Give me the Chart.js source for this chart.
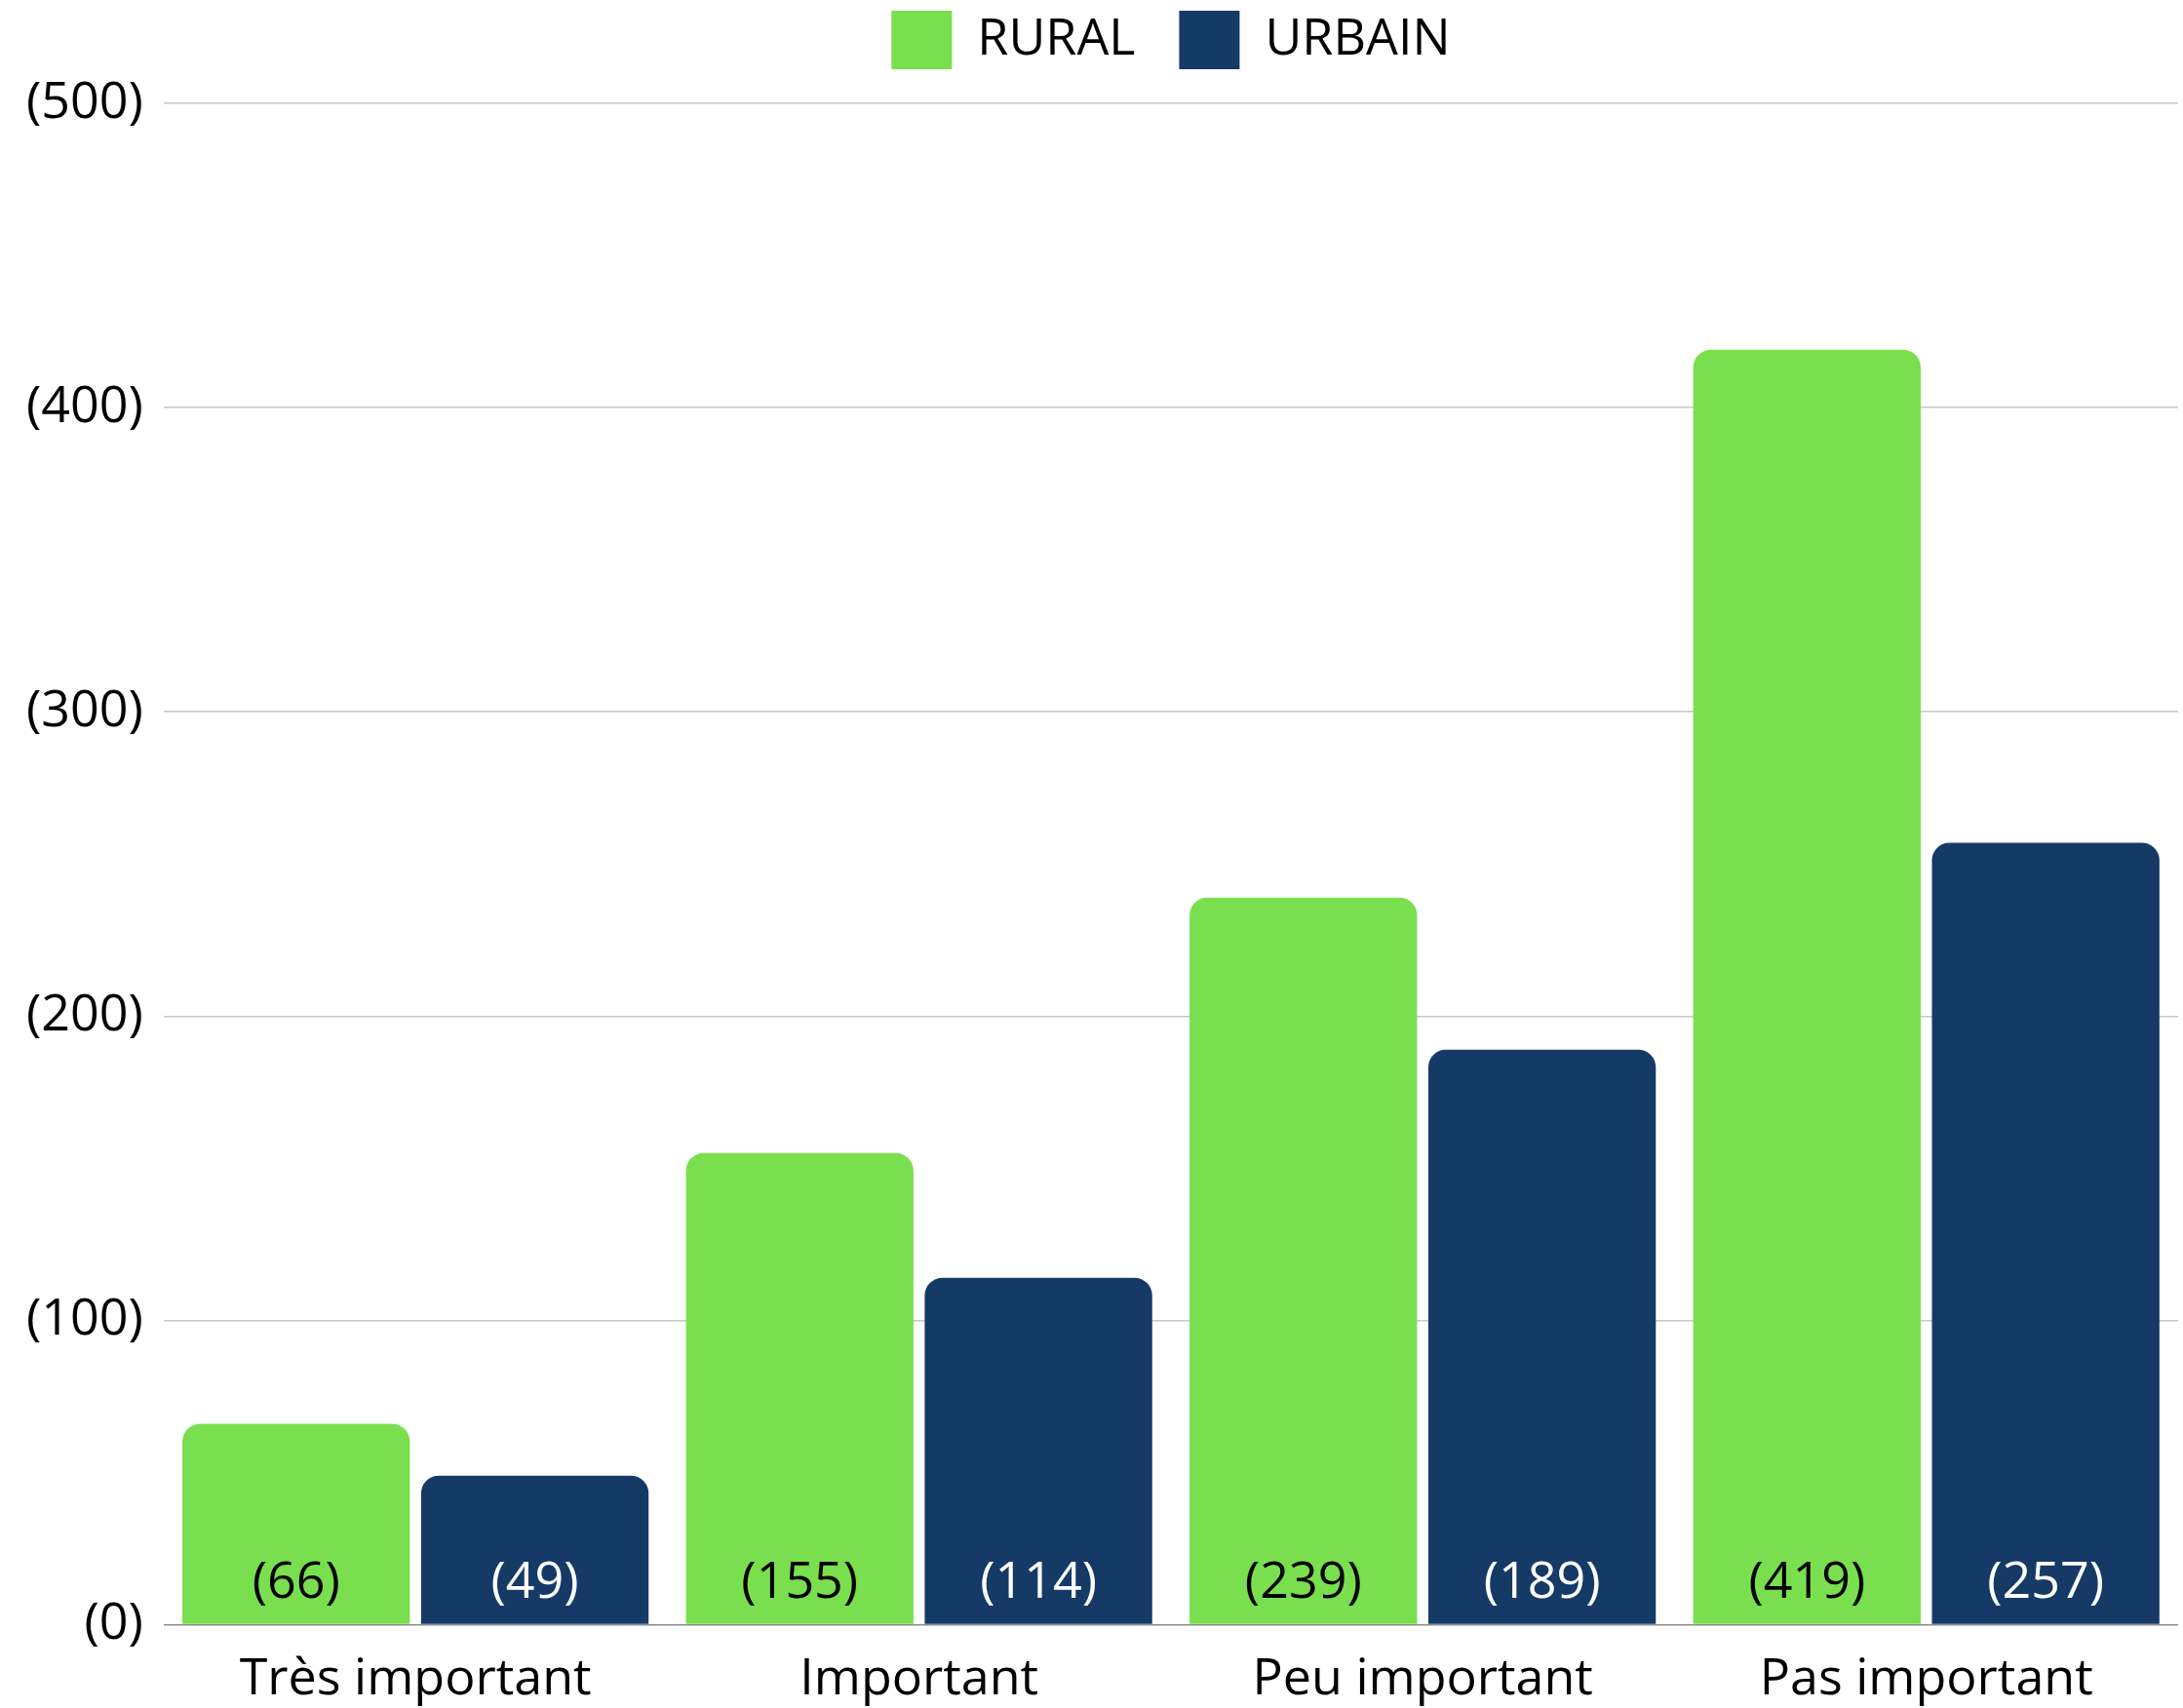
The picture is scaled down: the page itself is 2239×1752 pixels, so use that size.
<!DOCTYPE html>
<html>
<head>
<meta charset="utf-8">
<script src="https://cdn.jsdelivr.net/npm/chart.js@4"></script>
<style>
    html, body { margin: 0; padding: 0; background: #fff; }
    #wrap { width: 2239px; height: 1752px; }
</style>
</head>
<body>
<div id="wrap"><canvas id="chart"></canvas></div>
<script>
// Chart data
const categories = ['Très important', 'Important', 'Peu important', 'Pas important'];
const seriesNames = ['RURAL', 'URBAIN'];
const ruralValues = [66, 155, 239, 419];
const urbainValues = [49, 114, 189, 257];
const yTickValues = [0, 100, 200, 300, 400, 500];

const barColors = ['#79df4f', '#163a66'];
const valueLabelColors = ['#000000', '#ffffff'];
const fontFamily = '"Open Sans", "Noto Sans", sans-serif';

// Draw "(n)" inside each bar, near its base
const barValueLabels = {
    id: 'barValueLabels',
    afterDatasetsDraw(chart) {
        const ctx = chart.ctx;
        ctx.save();
        ctx.font = '52px ' + fontFamily;
        ctx.textAlign = 'center';
        ctx.textBaseline = 'middle';
        chart.data.datasets.forEach((dataset, i) => {
            const meta = chart.getDatasetMeta(i);
            ctx.fillStyle = valueLabelColors[i];
            meta.data.forEach((bar, j) => {
                ctx.fillText('(' + dataset.data[j] + ')', bar.x, bar.base - 42);
            });
        });
        ctx.restore();
    }
};

// Extra room between legend and plot area
const legendGap = {
    id: 'legendGap',
    beforeInit(chart) {
        const originalFit = chart.legend.fit;
        chart.legend.fit = function () {
            originalFit.bind(chart.legend)();
            this.height += 25;
        };
    }
};

const ctx = document.getElementById('chart').getContext('2d');
new Chart(ctx, {
    type: 'bar',
    data: {
        labels: categories,
        datasets: [
            {
                label: seriesNames[0],
                data: ruralValues,
                backgroundColor: barColors[0],
                borderRadius: { topLeft: 18, topRight: 18 },
                borderSkipped: 'start'
            },
            {
                label: seriesNames[1],
                data: urbainValues,
                backgroundColor: barColors[1],
                borderRadius: { topLeft: 18, topRight: 18 },
                borderSkipped: 'start'
            }
        ]
    },
    options: {
        responsive: true,
        maintainAspectRatio: false,
        devicePixelRatio: 1,
        animation: false,
        categoryPercentage: 0.948,
        barPercentage: 0.953,
        layout: {
            padding: { top: -34, left: 6, right: 5, bottom: -27 }
        },
        plugins: {
            tooltip: { enabled: false },
            legend: {
                position: 'top',
                fullSize: false,
                labels: {
                    boxWidth: 62,
                    boxHeight: 60,
                    padding: 45,
                    color: '#000',
                    font: { family: fontFamily, size: 52 }
                }
            }
        },
        scales: {
            x: {
                grid: { display: false, drawTicks: false },
                border: { display: false },
                ticks: {
                    padding: 25,
                    color: '#000',
                    font: { family: fontFamily, size: 52 }
                }
            },
            y: {
                min: 0,
                max: 500,
                afterBuildTicks(scale) {
                    scale.ticks = yTickValues.map(v => ({ value: v }));
                },
                grid: {
                    drawTicks: false,
                    lineWidth: 1.5,
                    color: c => (c.tick && c.tick.value === 0 ? '#8c8c8c' : '#c8c8c8')
                },
                border: { display: false },
                ticks: {
                    padding: 21,
                    color: '#000',
                    font: { family: fontFamily, size: 52 },
                    callback: v => '(' + v + ')'
                }
            }
        }
    },
    plugins: [barValueLabels, legendGap]
});
</script>
</body>
</html>
